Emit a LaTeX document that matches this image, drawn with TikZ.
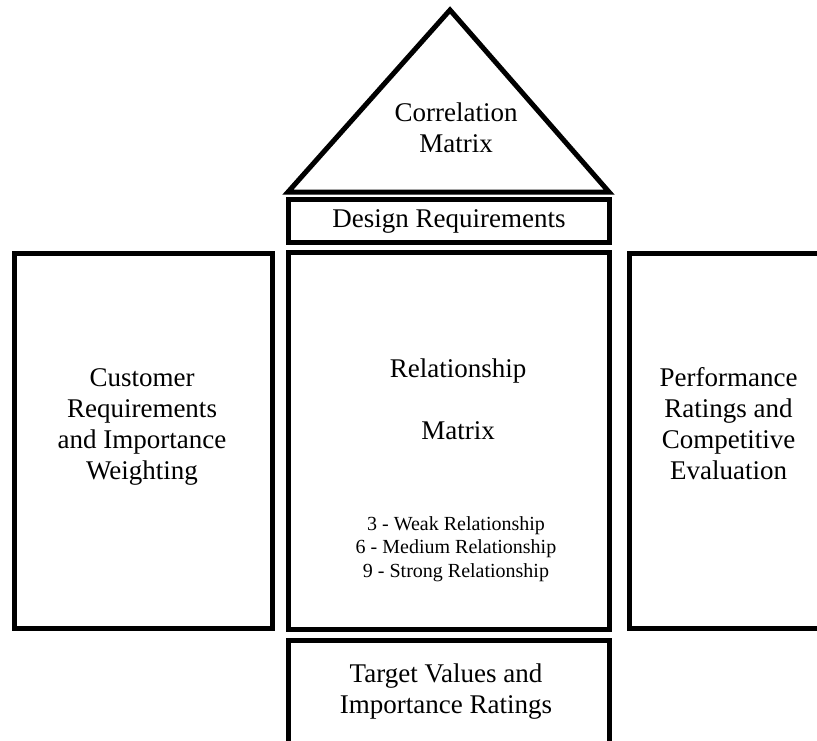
\documentclass[tikz,border=0pt]{standalone}
\usepackage{fontspec}
\setmainfont{Liberation Serif}
\usetikzlibrary{positioning}
\tikzset{frame/.style={rectangle, draw=black, line width=2.5pt, outer sep=0pt, inner sep=0pt, align=center}, bigtext/.style={font=\fontsize{13.5}{15.5}\selectfont, align=center, inner sep=0pt}, smalltext/.style={font=\fontsize{10}{11.75}\selectfont, align=center, inner sep=0pt}}

\begin{document}
\begin{tikzpicture}[x=0.5pt, y=-0.5pt]
\clip (0,0) rectangle (817,740);
\node[frame, minimum width=160.5pt, minimum height=188.5pt] (rel) at (448.5,440.5) {};
\node[frame, minimum width=160.5pt, minimum height=21.5pt, above=5pt of rel] (design) {};
\node[frame, minimum width=129pt, minimum height=187.5pt, left=8pt of rel] (cust) {};
\node[frame, minimum width=99pt, minimum height=187.5pt, right=10.25pt of rel] (perf) {};
\node[frame, minimum width=160.5pt, minimum height=60pt, below=5.75pt of rel] (target) {};
\coordinate (apex) at (450,10);
\coordinate (baseleft) at ([yshift=3.5pt]design.north west);
\coordinate (baseright) at ([yshift=3.5pt]design.north east);
\draw[line width=2.5pt, line join=miter] (baseleft) -- (apex) -- (baseright) -- cycle;
\node[bigtext] (corrtext) at (456,128) {Correlation\\Matrix};
\node[bigtext] (designtext) at (449,221) {Design Requirements};
\node[bigtext] (custtext) at (142,427) {Customer\\Requirements\\and Importance\\Weighting};
\node[bigtext] (perftext) at (728.5,424) {Performance\\Ratings and\\Competitive\\Evaluation};
\node[bigtext] (reltext) at (458,399) {Relationship\\[15.5pt]Matrix};
\node[smalltext] (scale) at (456,549) {3 - Weak Relationship\\6 - Medium Relationship\\9 - Strong Relationship};
\node[bigtext] (targettext) at (446,691.5) {Target Values and\\Importance Ratings};
\end{tikzpicture}
\end{document}
